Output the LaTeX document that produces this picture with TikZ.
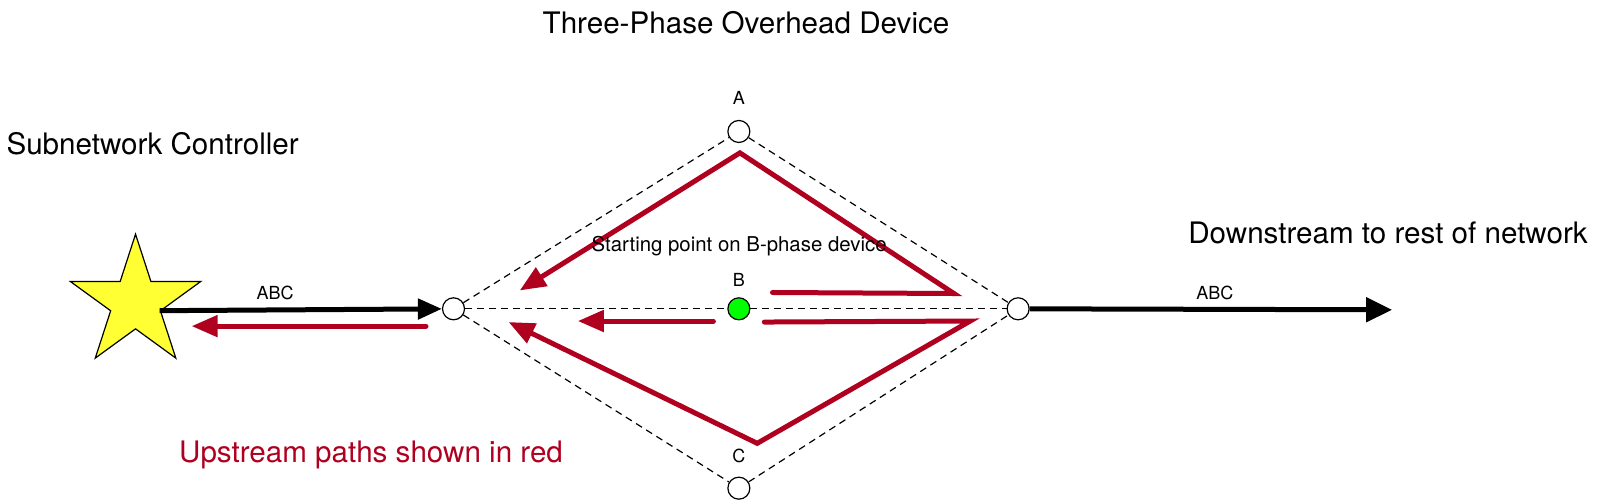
\documentclass[tikz,border=0pt]{standalone}
\usepackage{fontspec}
\setmainfont{TeX Gyre Heros}
\usetikzlibrary{arrows.meta,shapes.geometric}
\definecolor{upred}{RGB}{176,0,32}
\definecolor{ctrlyellow}{RGB}{255,255,51}
\begin{document}
\begin{tikzpicture}[x=0.50957pt,y=-0.50957pt,
    dev/.style={circle,draw,fill=white,inner sep=0pt,minimum size=11pt,line width=0.6pt},
    phase/.style={dash pattern=on 3.5pt off 2.5pt,line width=0.6pt},
    feed/.style={line width=2.5pt,-{Triangle[length=12pt,width=10pt]}},
    up/.style={upred,line width=2.5pt,line cap=round,-{Triangle[length=13pt,width=10.5pt]}},
    lbl/.style={font=\fontsize{9}{10}\selectfont,inner sep=0pt,anchor=base},
    big/.style={font=\fontsize{14.8}{17}\selectfont,inner sep=0pt,anchor=base}]
  \useasboundingbox (0,0) rectangle (1568,490.6);
  \node[star,star points=5,star point ratio=2.618,draw,fill=ctrlyellow,
        minimum size=68.5pt,inner sep=0pt,line width=0.6pt] (src) at (133,297) {};
  \draw
    (445,303) node[dev] (lft){}
    (999,303) node[dev] (rgt){}
    (725,129) node[dev] (phA){}
    (725,303) node[dev,fill=green] (phB){}
    (725,479) node[dev] (phC){};
  \coordinate (dstream) at (1366,304);
  \begin{scope}[phase]
    \draw (lft) to (phA);
    \draw (phA) to (rgt);
    \draw (lft) to (phC);
    \draw (phC) to (rgt);
    \draw (lft) to (phB);
    \draw (phB) to (rgt);
  \end{scope}
  \draw[feed] ([xshift=12pt,yshift=-4pt]src.center) to (lft);
  \draw[feed,-{Triangle[length=13pt,width=12pt]}] (rgt) to (dstream);
  % upstream paths
  \draw[up] (418,320) -- (188,320);
  \draw[up] (758,287) -- (936,288) -- (726,150) -- (510,285);
  \draw[up] (700,315) -- (567,315);
  \draw[up] (750,316) -- (952,315) -- (743,435) -- (499,316);
  % labels
  \node[lbl] (labA) at (725,103) {A};
  \node[lbl] (labB) at (725,281.2) {B};
  \node[lbl] (labC) at (725,454) {C};
  \node[lbl,font=\fontsize{10.2}{12}\selectfont] (start) at (725.3,246.9) {Starting point on B-phase device};
  \node[lbl] (abcin) at (270,293.6) {ABC};
  \node[lbl] (abcout) at (1192,293.6) {ABC};
  \node[big] (title) at (732,32.7) {Three-Phase Overhead Device};
  \node[big,anchor=base west] (ctrl) at (6,152) {Subnetwork Controller};
  \node[big] (down) at (1362,239) {Downstream to rest of network};
  \node[big,text=upred] (legend) at (364,454) {Upstream paths shown in red};
\end{tikzpicture}
\end{document}
